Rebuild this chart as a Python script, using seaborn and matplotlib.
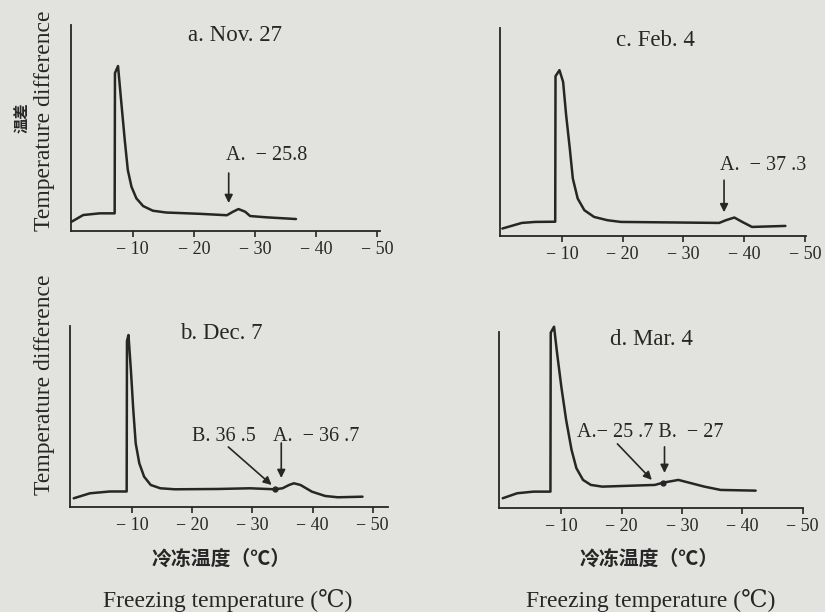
import numpy as np
import pandas as pd
import matplotlib
matplotlib.use("Agg")
import matplotlib.pyplot as plt
import seaborn as sns

# curve traces (x: freezing temp in C, y: arbitrary units)
a_x = [0, -1.9, -4.6, -7.05, -7.1, -7.6, -8.1, -8.7, -9.2, -9.8, -10.6, -11.7, -13.3, -15.5,
       -17.7, -21.0, -25.4, -26.4, -27.3, -28.4, -29.2, -31.9, -36.7]
a_y = [9.3, 16, 17.7, 17.7, 158, 165, 131, 91, 61, 44.3, 32.7, 25, 20.3, 18.5,
       18, 17.2, 15.8, 19.3, 22, 19.3, 15, 13.7, 12]

b_x = [-0.3, -3.0, -6.3, -9.1, -9.15, -9.4, -9.8, -10.2, -10.6, -11.2, -12.0, -13.1, -14.7,
       -17.1, -24.2, -29.6, -33.7, -35.0, -36.1, -36.9, -38.0, -39.9, -42.1, -44.2, -48.3]
b_y = [8.7, 13.7, 15.5, 15.5, 166, 172, 137, 97, 63.7, 43.7, 30.3, 22, 18.7,
       17.7, 18, 18.7, 17.7, 18.7, 22, 23.7, 22, 15.3, 11, 9.7, 10.3]

c_x = [-0.2, -3.4, -5.6, -8.9, -8.95, -9.6, -10.2, -10.7, -11.3, -11.8, -12.6, -13.7,
       -15.3, -17.5, -19.7, -27.8, -35.9, -37.0, -38.4, -39.7, -41.3, -46.8]
c_y = [7.7, 13.3, 14.3, 14.5, 160, 166, 154.3, 121, 87.7, 57.7, 37.7, 26,
       19.3, 16, 14.3, 13.8, 13.3, 16, 18.7, 14.3, 9.3, 10.3]

d_x = [-0.3, -2.7, -5.4, -8.2, -8.25, -8.8, -9.3, -10.0, -10.8, -11.7, -12.5, -13.6,
       -14.9, -16.8, -25.5, -26.9, -29.4, -33.7, -36.4, -42.2]
d_y = [9.7, 14.7, 16.3, 16.3, 175, 181, 154.7, 121.3, 88, 58, 39.7, 28,
       23, 21.3, 23, 25.3, 28, 21.3, 18, 17.3]

ticks = [-10, -20, -30, -40, -50]
tick_labels = ["− 10", "− 20", "− 30", "− 40", "− 50"]
titles = ["a. Nov. 27", "b. Dec. 7", "c. Feb. 4", "d. Mar. 4"]

bg = "#e2e2de"
ink = "#262626"
serif = ["Liberation Serif", "DejaVu Serif"]
cjk = ["Noto Sans CJK SC", "DejaVu Sans"]

sns.set_style("ticks")
plt.rcParams["font.family"] = serif
plt.rcParams["axes.linewidth"] = 1.3

fig = plt.figure(figsize=(8.25, 6.12), dpi=100, facecolor=bg)

panels = [
    # rect, xlim, ylim, data
    ([0.086, 0.6225, 0.375, 0.3365], (0.1, -50.5), (0, 206), a_x, a_y),
    ([0.085, 0.1716, 0.385, 0.2957], (0.3, -52.5), (0, 181), b_x, b_y),
    ([0.606, 0.614, 0.371, 0.340], (0.2, -50.2), (0, 208), c_x, c_y),
    ([0.605, 0.170, 0.368, 0.288], (0.3, -50.0), (0, 176), d_x, d_y),
]

axes = []
for (rect, xl, yl, xs, ys), title in zip(panels, titles):
    ax = fig.add_axes(rect)
    ax.set_facecolor(bg)
    df = pd.DataFrame({"t": xs, "d": ys})
    sns.lineplot(data=df, x="t", y="d", sort=False, estimator=None, ax=ax,
                 color=ink, lw=1.8, clip_on=False, solid_joinstyle="round")
    ax.set_xlim(*xl)
    ax.set_ylim(*yl)
    ax.set_xticks(ticks)
    ax.set_xticklabels(tick_labels, fontsize=13)
    ax.set_yticks([])
    ax.set_xlabel("")
    ax.set_ylabel("")
    ax.tick_params(axis="x", direction="out", length=4, width=1.2, colors=ink, pad=3)
    for s in ["left", "bottom"]:
        ax.spines[s].set_color(ink)
    sns.despine(ax=ax)
    axes.append(ax)

ax_a, ax_b, ax_c, ax_d = axes

arrow = dict(arrowstyle="-|>", color=ink, lw=1.2, mutation_scale=12, shrinkA=0, shrinkB=0)
fs_ann = 14.5
fs_title = 16.5

ax_a.text(-26.7, 196, titles[0], ha="center", va="center", fontsize=fs_title, color=ink)
ax_a.text(-25.2, 76, "A.  − 25.8", ha="left", va="center", fontsize=fs_ann, color=ink)
ax_a.annotate("", xy=(-25.7, 28), xytext=(-25.7, 58), arrowprops=arrow)

ax_b.text(-24.9, 174, titles[1], ha="center", va="center", fontsize=fs_title, color=ink)
ax_b.text(-20.0, 70, "B. 36 .5", ha="left", va="center", fontsize=fs_ann, color=ink)
ax_b.text(-33.5, 70, "A.  − 36 .7", ha="left", va="center", fontsize=fs_ann, color=ink)
ax_b.annotate("", xy=(-33.2, 22), xytext=(-26.0, 60), arrowprops=arrow)
ax_b.annotate("", xy=(-34.8, 29), xytext=(-34.8, 64), arrowprops=arrow)
ax_b.plot([-33.7], [17.7], "o", color=ink, ms=3.5)

ax_c.text(-25.4, 196, titles[2], ha="center", va="center", fontsize=fs_title, color=ink)
ax_c.text(-36.1, 71, "A.  − 37 .3", ha="left", va="center", fontsize=fs_ann, color=ink)
ax_c.annotate("", xy=(-36.7, 24), xytext=(-36.7, 56), arrowprops=arrow)

ax_d.text(-25.0, 168, titles[3], ha="center", va="center", fontsize=fs_title, color=ink)
ax_d.text(-12.6, 75, "A.− 25 .7 B.  − 27", ha="left", va="center", fontsize=fs_ann, color=ink)
ax_d.annotate("", xy=(-25.0, 28), xytext=(-19.3, 64), arrowprops=arrow)
ax_d.annotate("", xy=(-27.1, 35), xytext=(-27.1, 61), arrowprops=arrow)
ax_d.plot([-26.9], [25.3], "o", color=ink, ms=3.5)

# y labels (left panels only)
fig.text(22 / 825, 1 - 118 / 612, "温差", rotation=90, ha="center", va="center",
         fontsize=11, fontweight="bold", family=cjk, color=ink)
fig.text(45 / 825, 1 - 121 / 612, "Temperature difference", rotation=90, ha="center",
         va="center", fontsize=17, color=ink)
fig.text(45 / 825, 1 - 385 / 612, "Temperature difference", rotation=90, ha="center",
         va="center", fontsize=17, color=ink)

# x labels (bottom panels)
for cx in [221, 649]:
    fig.text(cx / 825, 1 - 558 / 612, "冷冻温度（℃）", ha="center", va="center",
             fontsize=14.3, fontweight="bold", family=cjk, color=ink)
fig.text(228 / 825, 1 - 600 / 612, "Freezing temperature (℃)", ha="center", va="center",
         fontsize=17, color=ink)
fig.text(651 / 825, 1 - 600 / 612, "Freezing temperature (℃)", ha="center", va="center",
         fontsize=17, color=ink)

fig.savefig("out.png", dpi=100, facecolor=bg)
